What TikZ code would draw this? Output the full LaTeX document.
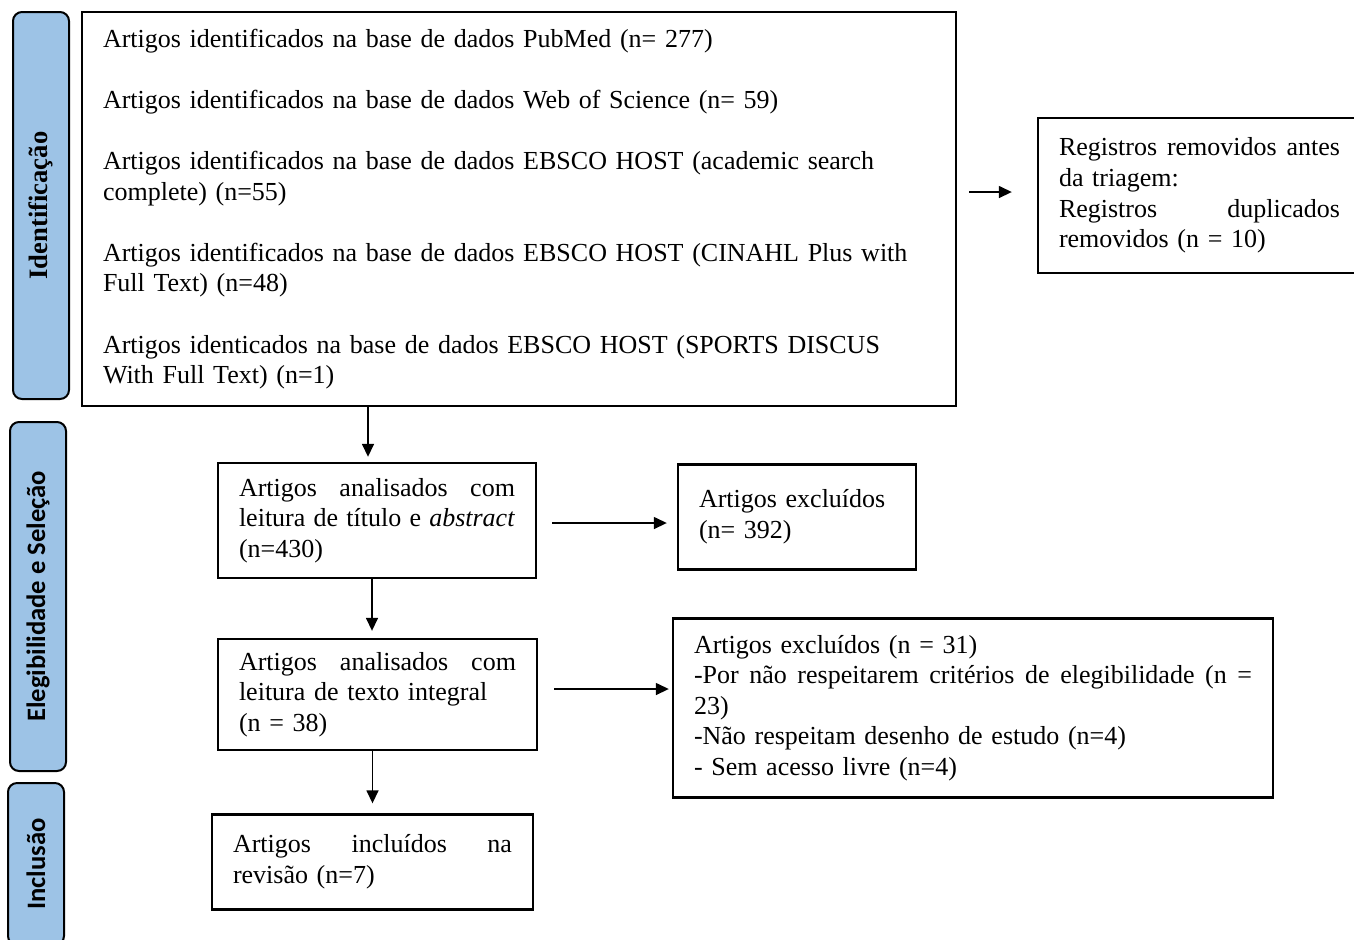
\documentclass[tikz,border=0pt]{standalone}
\usepackage{fontspec}
\setmainfont{Liberation Serif}
\newfontfamily\phasesans{Carlito}
\usepackage{tikz}
\usetikzlibrary{arrows.meta, positioning}
\definecolor{phaseblue}{RGB}{157, 195, 230}

\begin{document}
\begin{tikzpicture}[
    x=0.5pt, y=-0.5pt,
    every node/.style={font=\fontsize{13}{15.3}\selectfont},
    box/.style={rectangle, draw, line width=1.2pt, inner xsep=10.5pt,
                inner ysep=0pt, align=left},
    phase/.style={rectangle, draw, line width=1pt, rounded corners=4.5pt,
                  fill=phaseblue, rotate=90, minimum height=28pt, inner sep=0pt,
                  font=\fontsize{13.3}{15.3}\selectfont\bfseries},
    arr/.style={-{Triangle[length=6.5pt, width=6pt]}, line width=0.75pt}
]
    \useasboundingbox (0,0) rectangle (1354,939);

    % Phases
    \node[phase, minimum width=193.5pt] (ident) at (41,205.5) {Identificação};
    \node[phase, minimum width=174.5pt] (elig) at (38,596.5) {\phasesans Elegibilidade e Seleção};
    \node[phase, minimum width=81pt] (incl) at (36,864) {\phasesans Inclusão};

    % Identification
    \node[box, text width=416pt, minimum height=197pt] (main) at (519,209) {%
        Artigos identificados na base de dados PubMed (n= 277)\\[15.3pt]
        Artigos identificados na base de dados Web of Science (n= 59)\\[15.3pt]
        Artigos identificados na base de dados EBSCO HOST (academic search\\
        complete) (n=55)\\[15.3pt]
        Artigos identificados na base de dados EBSCO HOST (CINAHL Plus with\\
        Full Text) (n=48)\\[15.3pt]
        Artigos identicados na base de dados EBSCO HOST (SPORTS DISCUS\\
        With Full Text) (n=1)};
    \node[box, text width=140.5pt, minimum height=77.5pt] (removed) at (1199.5,195.5) {%
        Registros\hfill removidos\hfill antes\\
        da triagem:\\
        Registros\hfill duplicados\\
        removidos (n = 10)};

    % Screening
    \node[box, text width=138pt, minimum height=57.5pt] (title) at (377,520.5) {%
        Artigos\hfill analisados\hfill com\\
        leitura\hfill de\hfill título\hfill e\hfill \textit{abstract}\\
        (n=430)};
    \node[box, text width=98pt, minimum height=52.5pt] (excl1) at (797,517) {%
        Artigos excluídos\\
        (n= 392)};
    \node[box, text width=138.5pt, minimum height=55.5pt] (fulltext) at (377.5,694.5) {%
        Artigos\hfill analisados\hfill com\\
        leitura de texto integral\\
        (n = 38)};
    \node[box, text width=279pt, minimum height=89.5pt] (excl2) at (973,708) {%
        Artigos excluídos (n = 31)\\
        -Por\hfill não\hfill respeitarem\hfill critérios\hfill de\hfill elegibilidade\hfill (n\hfill =\\
        23)\\
        -Não respeitam desenho de estudo (n=4)\\
        - Sem acesso livre (n=4)};

    % Inclusion
    \node[box, text width=139.5pt, minimum height=47.5pt] (included) at (372.5,862) {%
        Artigos\hfill incluídos\hfill na\\
        revisão (n=7)};

    % Flow
    \draw[arr, shorten <=6pt, shorten >=12.5pt] ([yshift=1.75pt]removed.west -| main.east) -- ([yshift=1.75pt]removed.west);
    \draw[arr, shorten >=2.5pt] ([xshift=-4.5pt]title.north |- main.south) -- ([xshift=-4.5pt]title.north);
    \draw[arr, shorten <=7.5pt, shorten >=5pt] ([yshift=-1.25pt]title.east) -- ([yshift=-1.25pt]title.east -| excl1.west);
    \draw[arr, shorten >=3.5pt] ([xshift=-2.5pt]title.south) -- ([xshift=-2.5pt]title.south |- fulltext.north);
    \draw[arr, shorten <=8pt, shorten >=1.5pt] ([yshift=2.75pt]fulltext.east) -- ([yshift=2.75pt]fulltext.east -| excl2.west);
    \draw[arr, shorten >=5pt] (fulltext.south -| included.north) -- (included.north);

\end{tikzpicture}
\end{document}
